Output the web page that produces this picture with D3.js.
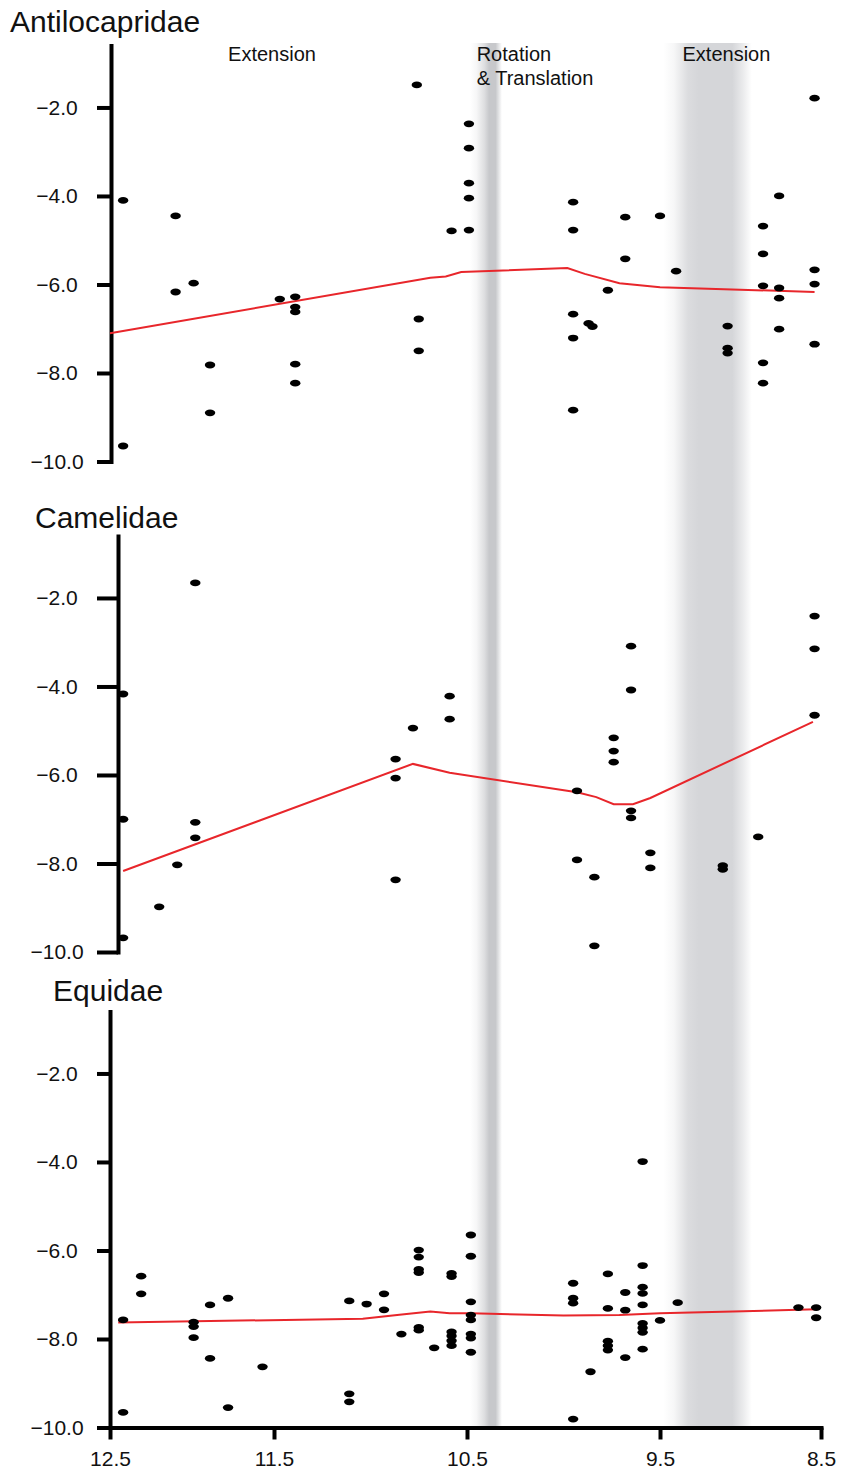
<!DOCTYPE html>
<html>
<head>
<meta charset="utf-8">
<script src="https://cdn.jsdelivr.net/npm/d3@7"></script>
<style>
  body { margin: 0; background: #fff; }
  svg { display: block; }
  text { font-family: "Liberation Sans", Arial, Helvetica, sans-serif; fill: #111; }
</style>
</head>
<body>
<svg id="chart" width="844" height="1473"></svg>
<script>
// Age axis (Ma) and value axis ticks
const ageTicks = [12.5, 11.5, 10.5, 9.5, 8.5];
const valueTicks = [-2, -4, -6, -8, -10];
const valueDomain = [-10, -0.6];

const familyNames = ["Antilocapridae", "Camelidae", "Equidae"];

// Tectonic phases: shaded age intervals and their labels
const phaseBands = [[10.484, 10.319], [9.48, 8.93]];
const phaseLabels = [["Extension"], ["Rotation", "& Translation"], ["Extension"]];
const phaseLabelAges = [11.78, 10.45, 9.36];

// Individual measurements [age, value]
const antilocapridaePoints = [
  [10.76, -1.49], [12.42, -4.1], [12.1, -4.45], [11.99, -5.97], [12.1, -6.17],
  [11.47, -6.33], [11.39, -6.28], [11.39, -6.51], [11.39, -6.62], [10.75, -6.78],
  [10.75, -7.5], [11.89, -7.82], [11.39, -7.8], [11.39, -8.23], [11.89, -8.9],
  [12.42, -9.65], [10.49, -2.37], [10.49, -2.92], [10.49, -3.71], [10.49, -4.05],
  [10.58, -4.79], [10.49, -4.77], [9.95, -4.14], [9.95, -4.77], [9.68, -4.48],
  [9.5, -4.45], [9.68, -5.42], [9.4, -5.7], [9.77, -6.13], [9.95, -6.67],
  [9.87, -6.88], [9.85, -6.95], [9.95, -7.21], [9.95, -8.84], [8.54, -1.79],
  [8.76, -4.0], [8.86, -4.68], [8.86, -5.31], [8.86, -6.03], [8.76, -6.08],
  [8.76, -6.31], [8.54, -5.67], [8.54, -5.99], [9.08, -6.94], [9.08, -7.44],
  [9.08, -7.55], [8.76, -7.01], [8.54, -7.35], [8.86, -7.77], [8.86, -8.23]
];
const camelidaePoints = [
  [11.98, -1.66], [12.42, -4.17], [10.78, -4.94], [10.87, -5.64], [10.87, -6.07],
  [12.42, -7.0], [11.98, -7.07], [11.98, -7.42], [12.09, -8.03], [10.87, -8.37],
  [12.2, -8.98], [12.42, -9.68], [10.59, -4.22], [10.59, -4.74], [9.65, -3.09],
  [9.65, -4.08], [9.74, -5.16], [9.74, -5.46], [9.74, -5.71], [9.93, -6.36],
  [9.65, -6.81], [9.65, -6.97], [9.55, -7.76], [9.55, -8.1], [9.93, -7.92],
  [9.84, -8.31], [9.84, -9.86], [9.11, -8.05], [9.11, -8.13], [8.89, -7.4],
  [8.54, -2.41], [8.54, -3.15], [8.54, -4.65]
];
const equidaePoints = [
  [12.42, -7.57], [12.42, -9.66], [12.31, -6.58], [12.31, -6.98], [11.99, -7.62],
  [11.99, -7.72], [11.99, -7.97], [11.89, -7.23], [11.89, -8.44], [11.78, -7.08],
  [11.78, -9.55], [11.57, -8.63], [11.11, -7.14], [11.11, -9.24], [11.11, -9.42],
  [11.02, -7.21], [10.93, -6.98], [10.93, -7.34], [10.84, -7.89], [10.75, -5.99],
  [10.75, -6.15], [10.75, -6.43], [10.75, -6.5], [10.75, -7.74], [10.75, -7.8],
  [10.67, -8.2], [10.58, -6.52], [10.58, -6.59], [10.58, -7.84], [10.58, -7.93],
  [10.58, -8.04], [10.58, -8.15], [10.48, -5.65], [10.48, -6.13], [10.48, -7.16],
  [10.48, -7.46], [10.48, -7.57], [10.48, -7.89], [10.48, -7.98], [10.48, -8.3],
  [9.95, -6.74], [9.95, -7.08], [9.95, -7.19], [9.95, -9.81], [9.86, -8.74],
  [9.77, -6.53], [9.77, -7.31], [9.77, -8.05], [9.77, -8.15], [9.77, -8.25],
  [9.68, -6.95], [9.68, -7.35], [9.68, -8.42], [9.59, -3.99], [9.59, -6.34],
  [9.59, -6.83], [9.59, -6.97], [9.59, -7.23], [9.59, -7.65], [9.59, -7.75],
  [9.59, -7.85], [9.59, -8.23], [9.5, -7.58], [9.39, -7.18], [8.64, -7.29],
  [8.53, -7.29], [8.53, -7.52]
];

// Smoothed trend for each family [age, value]
const antilocapridaeTrend = [
  [12.5, -7.1], [10.69, -5.85], [10.61, -5.82], [10.53, -5.72], [9.98, -5.63],
  [9.89, -5.76], [9.71, -5.97], [9.5, -6.06], [8.54, -6.17]
];
const camelidaeTrend = [
  [12.42, -8.17], [10.78, -5.75], [10.59, -5.95], [9.93, -6.39], [9.83, -6.5],
  [9.74, -6.66], [9.64, -6.66], [9.55, -6.52], [8.55, -4.8]
];
const equidaeTrend = [
  [12.45, -7.63], [11.04, -7.54], [10.85, -7.45], [10.69, -7.38], [10.59, -7.42],
  [10.48, -7.42], [10.0, -7.47], [9.71, -7.46], [9.5, -7.42], [8.53, -7.33]
];

const panelPoints = [antilocapridaePoints, camelidaePoints, equidaePoints];
const panelTrends = [antilocapridaeTrend, camelidaeTrend, equidaeTrend];

// ---- layout ----
const svg = d3.select("#chart");
const panelBottoms = [461.5, 952, 1427.5];
const panelHeight = 416;
const axisShift = [1, 8, 0];
const tickStartX = 97;
const yLabelX = 57;
const titlePos = [[10, 32], [35, 528], [53, 1001]];
const bandTop = 43;

// The age axis is drawn piecewise between its labelled ticks
const x = d3.scaleLinear().domain(ageTicks).range([110, 274, 467, 660, 821]);
const fmt = d3.format(".1f");

// Shaded phase bands with soft edges
const defs = svg.append("defs");
const bandStops = [
  [[0, 0], [0.2, 0.15], [0.45, 0.6], [0.6, 1], [0.8, 1], [1, 0]],
  [[0, 0], [0.12, 0.2], [0.28, 0.85], [0.4, 1], [0.78, 1], [0.9, 0.5], [1, 0]]
];
const bandColors = ["#c7c8cb", "#d5d6d9"];
phaseBands.forEach((b, i) => {
  const grad = defs.append("linearGradient").attr("id", "band" + i)
    .attr("x1", "0").attr("x2", "1").attr("y1", "0").attr("y2", "0");
  bandStops[i].forEach(([o, a]) => {
    grad.append("stop").attr("offset", o).attr("stop-color", bandColors[i]).attr("stop-opacity", a);
  });
  svg.append("rect")
    .attr("x", x(b[0]))
    .attr("y", bandTop)
    .attr("width", x(b[1]) - x(b[0]))
    .attr("height", panelBottoms[2] - bandTop)
    .attr("fill", `url(#band${i})`);
});

// Phase labels
phaseLabels.forEach((lines, i) => {
  const t = svg.append("text")
    .attr("x", x(phaseLabelAges[i]))
    .attr("y", 61)
    .attr("font-size", 20);
  lines.forEach((ln, j) => {
    t.append("tspan").attr("x", x(phaseLabelAges[i])).attr("dy", j === 0 ? 0 : 24).text(ln);
  });
});

const line = d3.line().x(d => x(d[0])).y(d => d[1]);

familyNames.forEach((name, i) => {
  const bottom = panelBottoms[i];
  const y = d3.scaleLinear().domain(valueDomain).range([bottom, bottom - panelHeight]);
  const axisX = x(12.5) + axisShift[i];
  const g = svg.append("g");

  // Title
  g.append("text")
    .attr("x", titlePos[i][0])
    .attr("y", titlePos[i][1])
    .attr("font-size", 30)
    .text(name);

  // Value axis
  const yAxis = d3.axisLeft(y)
    .tickValues(valueTicks)
    .tickFormat(fmt)
    .tickSize(axisX - tickStartX)
    .tickSizeOuter(0);
  const ya = g.append("g")
    .attr("transform", `translate(${axisX},0)`)
    .call(yAxis)
    .attr("font-size", null)
    .attr("font-family", null);
  ya.select(".domain").attr("stroke", "#000").attr("stroke-width", 4).attr("stroke-linecap", "square");
  ya.selectAll(".tick line").attr("stroke", "#000").attr("stroke-width", 4);
  ya.selectAll(".tick text")
    .attr("x", yLabelX - axisX)
    .attr("text-anchor", "middle")
    .attr("font-size", 21)
    .attr("fill", "#111");

  // Age axis on the bottom panel
  if (i === familyNames.length - 1) {
    const xAxis = d3.axisBottom(x)
      .tickValues(ageTicks)
      .tickFormat(fmt)
      .tickSize(12)
      .tickPadding(12)
      .tickSizeOuter(0);
    const xa = g.append("g")
      .attr("transform", `translate(0,${bottom})`)
      .call(xAxis)
      .attr("font-size", null)
      .attr("font-family", null);
    xa.select(".domain").attr("stroke", "#000").attr("stroke-width", 4).attr("stroke-linecap", "square");
    xa.selectAll(".tick line").attr("stroke", "#000").attr("stroke-width", 4);
    xa.selectAll(".tick text").attr("font-size", 21).attr("fill", "#111");
  }

  // Trend line
  g.append("path")
    .datum(panelTrends[i].map(d => [d[0], y(d[1])]))
    .attr("d", line)
    .attr("fill", "none")
    .attr("stroke", "#e8262b")
    .attr("stroke-width", 2);

  // Measurements
  g.append("g").selectAll("ellipse")
    .data(panelPoints[i])
    .join("ellipse")
    .attr("cx", d => x(d[0]))
    .attr("cy", d => y(d[1]))
    .attr("rx", 5.2)
    .attr("ry", 3.4)
    .attr("fill", "#000");
});
</script>
</body>
</html>
